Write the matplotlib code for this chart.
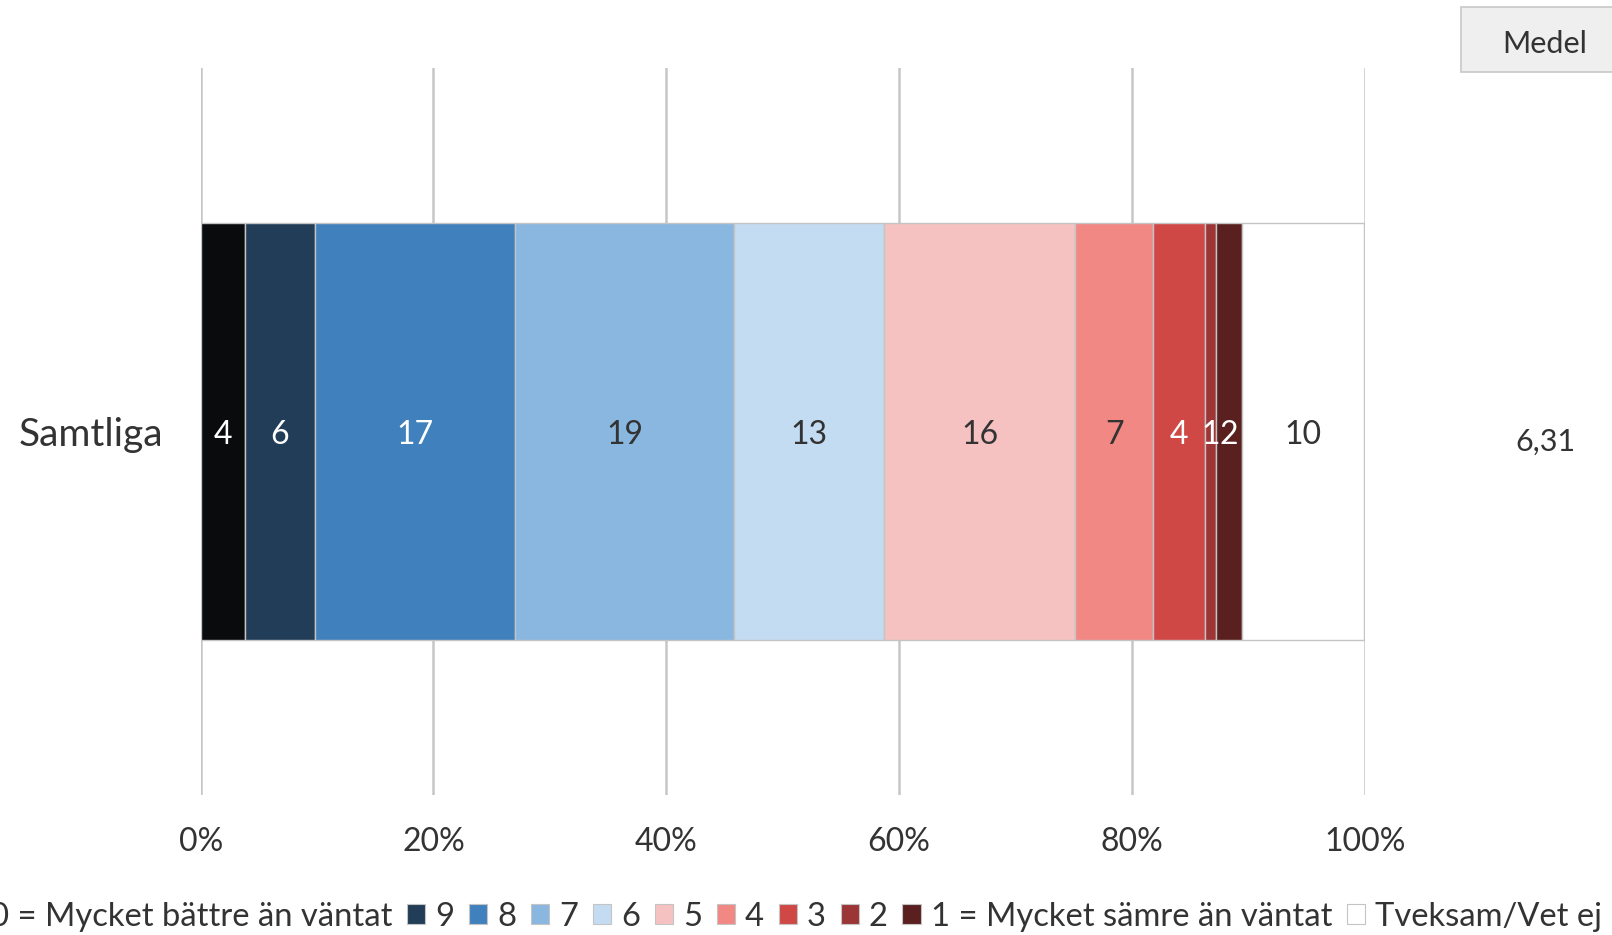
"""Stapeldiagram: Samtliga, fördelning 10 till 1 samt Tveksam/Vet ej."""

from __future__ import annotations

import matplotlib

matplotlib.use("Agg")
import matplotlib.pyplot as plt  # noqa: E402
from matplotlib.patches import Patch, Rectangle  # noqa: E402

category = "Samtliga"
grades = ["10", "9", "8", "7", "6", "5", "4", "3", "2", "1", "Tveksam/Vet ej"]
shares = [3.8, 6.0, 17.2, 18.8, 12.9, 16.45, 6.7, 4.4, 1.0, 2.2, 10.49]
legend_labels = [
    "10 = Mycket bättre än väntat", "9", "8", "7", "6", "5", "4", "3", "2",
    "1 = Mycket sämre än väntat", "Tveksam/Vet ej",
]
colors = [
    "#0a0b0d", "#213d58", "#4080bd", "#8ab7e0", "#c3dcf2", "#f5c2c1",
    "#f28884", "#d04846", "#9c3536", "#5a1f1f", "#ffffff",
]
label_colors = [
    "white", "white", "white", "#333333", "#333333", "#333333",
    "#333333", "white", "white", "white", "#333333",
]
ticks = [0, 20, 40, 60, 80, 100]
mean_value = "6,31"

plt.rcParams["font.family"] = ["Lato", "DejaVu Sans"]
TEXT = "#333333"

figure = plt.figure(figsize=(16.12, 9.35), dpi=100)
axis = figure.add_axes([0.1245, 0.1497, 0.7221, 0.7776])

left = 0.0
for share, color, text_color in zip(shares, colors, label_colors):
    axis.barh(0, share, left=left, height=0.574, color=color,
              edgecolor="#c4c4c4", linewidth=1.0, zorder=3)
    axis.text(left + share / 2, -0.005, f"{share:.0f}", ha="center", va="center",
              fontsize=23, color=text_color, zorder=4)
    left += share

axis.set_xlim(0, 100)
axis.set_ylim(-0.5, 0.5)
axis.set_xticks(ticks, [f"{t}%" for t in ticks])
axis.set_yticks([0], [category])
axis.xaxis.grid(True, color="#c6c6c6", linewidth=1.8, zorder=0)
axis.set_axisbelow(True)
axis.tick_params(axis="x", length=0, pad=23, labelsize=23, labelcolor=TEXT)
axis.tick_params(axis="y", length=0, pad=27, labelsize=28, labelcolor=TEXT)
for spine in axis.spines.values():
    spine.set_visible(False)

# rutan "Medel" uppe till höger och medelvärdet
figure.patches.append(Rectangle((1461 / 1612, 1 - 72 / 935), 0.2, 65 / 935,
                                transform=figure.transFigure, facecolor="#efefef",
                                edgecolor="#c8c8c8", linewidth=1.2))
figure.text(1545 / 1612, 1 - 44 / 935, "Medel", ha="center", va="center",
            fontsize=22, color=TEXT)
figure.text(1545 / 1612, 1 - 442 / 935, mean_value, ha="center", va="center",
            fontsize=22, color=TEXT)

# förklaringen är avskuren till vänster, som i originalet
handles = [Patch(facecolor=c, edgecolor="#c4c4c4", linewidth=0.8) for c in colors]
figure.legend(handles, legend_labels, loc="center right", ncol=len(handles),
              bbox_to_anchor=(1602 / 1612, 1 - 917 / 935), frameon=False,
              fontsize=23.6, labelcolor=TEXT, handlelength=0.56, handleheight=0.56,
              handletextpad=0.3, columnspacing=0.45, borderaxespad=0, borderpad=0)

figure.savefig("out.png", dpi=100)
plt.close(figure)
